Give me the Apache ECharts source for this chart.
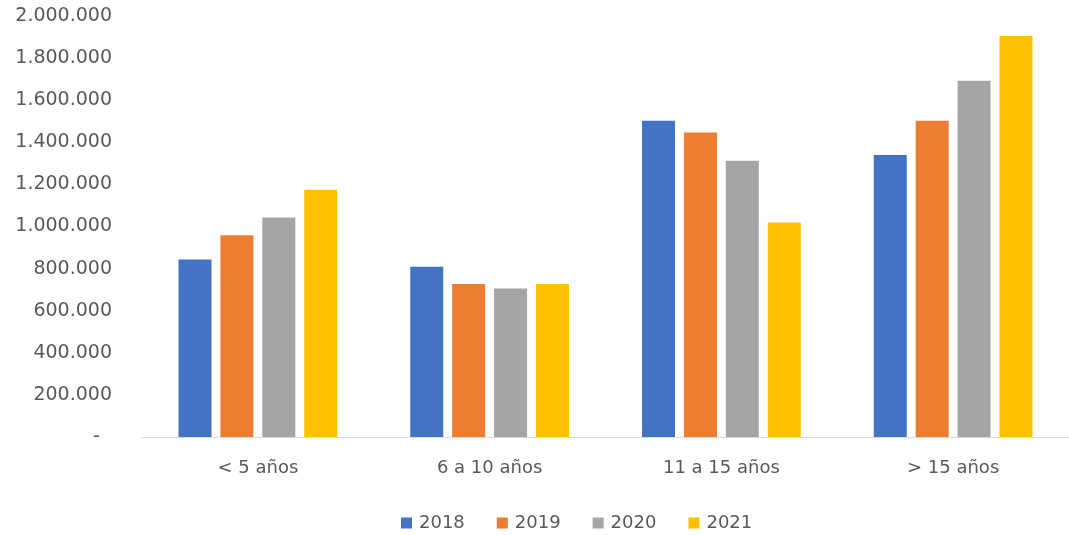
<!DOCTYPE html>
<html>
<head>
<meta charset="utf-8">
<script src="https://cdn.jsdelivr.net/npm/echarts@6/dist/echarts.min.js"></script>
<style>html,body{margin:0;padding:0;background:#fff}#c{width:1069px;height:535px}</style>
</head>
<body>
<div id="c"></div>
<script>
const categories = ['< 5 años', '6 a 10 años', '11 a 15 años', '> 15 años'];
const seriesNames = ['2018', '2019', '2020', '2021'];
const v2018 = [843000, 809000, 1502000, 1340000];
const v2019 = [959000, 727000, 1446000, 1502000];
const v2020 = [1043000, 706000, 1312000, 1692000];
const v2021 = [1174000, 727000, 1019000, 1905000];
const colors = ['#4472C4', '#ED7D31', '#A5A5A5', '#FFC000'];
const values = [v2018, v2019, v2020, v2021];

function fmt(v) {
  if (v === 0) return '-  ';
  return String(v).replace(/\B(?=(\d{3})+(?!\d))/g, '.');
}

const FONT = '"DejaVu Sans", Verdana, sans-serif';
const chart = echarts.init(document.getElementById('c'));
chart.setOption({
  animation: false,
  textStyle: { fontFamily: FONT },
  grid: { left: 142, top: 16, width: 930, bottom: 98, containLabel: false },
  legend: {
    top: 509,
    left: 396,
    itemWidth: 11,
    itemHeight: 11,
    itemGap: 32,
    icon: 'rect',
    textStyle: { color: '#595959', fontSize: 18, fontFamily: FONT, padding: [0, 0, 0, 2] },
    data: seriesNames
  },
  xAxis: {
    type: 'category',
    data: categories,
    axisLine: { lineStyle: { color: '#D9D9D9', width: 1 } },
    axisTick: { show: false },
    axisLabel: { color: '#595959', fontSize: 18, margin: 22, fontFamily: FONT }
  },
  yAxis: {
    type: 'value',
    min: 0,
    max: 2000000,
    interval: 200000,
    axisLine: { show: false },
    axisTick: { show: false },
    splitLine: { show: false },
    axisLabel: { color: '#595959', fontSize: 19, margin: 30, formatter: fmt, fontFamily: FONT }
  },
  series: seriesNames.map((n, i) => ({
    name: n,
    type: 'bar',
    data: values[i],
    itemStyle: { color: colors[i] },
    barWidth: 33,
    barGap: '27%'
  }))
});
</script>
</body>
</html>
